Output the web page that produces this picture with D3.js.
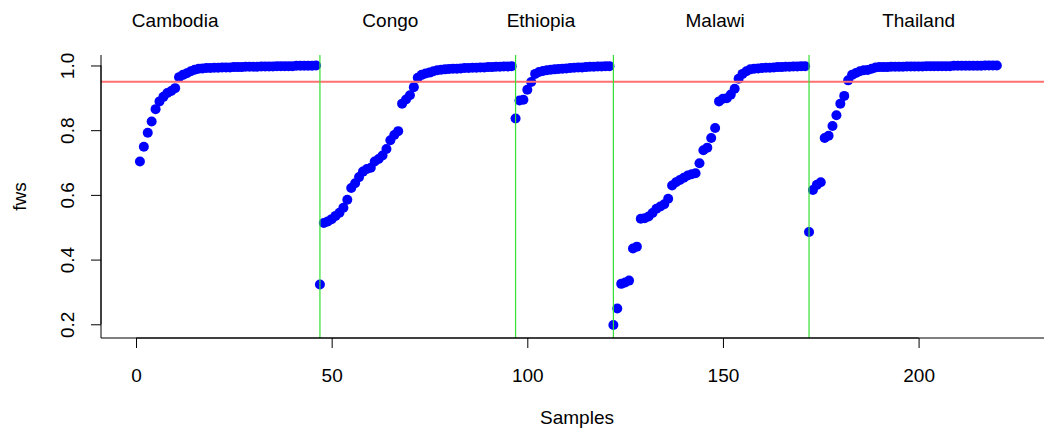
<html>
<head>
<title>fws by sample</title>
<script src="https://d3js.org/d3.v7.min.js"></script>
<style>
  body { margin: 0; background: #fff; }
  text { font-family: "Liberation Sans", Arial, sans-serif; fill: #000; }
</style>
</head>
<body>
<div id="chart"></div>
<script>
var width = 1044;
var height = 431;
// plot region (R style, right side runs past the window)
var margin = {top: 55, left: 101, bottom: 338, right: 1053};

var countries = ["Cambodia", "Congo", "Ethiopia", "Malawi", "Thailand"];
var labelAt = [10, 65, 103.5, 148, 200];

var cambodia = [0.703, 0.749, 0.792, 0.827, 0.865, 0.889, 0.903, 0.915, 0.921, 0.930,
  0.964, 0.971, 0.976, 0.982, 0.987, 0.990, 0.991, 0.992, 0.992, 0.993,
  0.993, 0.994, 0.994, 0.994, 0.995, 0.995, 0.995, 0.996, 0.996, 0.996,
  0.996, 0.997, 0.997, 0.997, 0.997, 0.998, 0.998, 0.998, 0.998, 0.998,
  0.999, 0.999, 0.999, 0.999, 0.999, 1.000];
var congo = [0.323, 0.513, 0.518, 0.525, 0.535, 0.545, 0.560, 0.585, 0.621, 0.636,
  0.655, 0.672, 0.680, 0.684, 0.703, 0.711, 0.722, 0.742, 0.769, 0.785,
  0.797, 0.882, 0.895, 0.908, 0.933, 0.962, 0.971, 0.975, 0.978, 0.982,
  0.985, 0.987, 0.988, 0.989, 0.990, 0.990, 0.991, 0.992, 0.992, 0.993,
  0.993, 0.994, 0.994, 0.995, 0.995, 0.996, 0.996, 0.997, 0.997, 0.998];
var ethiopia = [0.836, 0.892, 0.894, 0.925, 0.949, 0.974, 0.980, 0.983, 0.985, 0.987,
  0.988, 0.989, 0.990, 0.991, 0.992, 0.993, 0.994, 0.994, 0.995, 0.996,
  0.996, 0.997, 0.997, 0.998, 0.998];
var malawi = [0.198, 0.249, 0.325, 0.329, 0.335, 0.434, 0.440, 0.526, 0.528, 0.533,
  0.544, 0.557, 0.564, 0.571, 0.588, 0.629, 0.639, 0.646, 0.653, 0.660,
  0.664, 0.667, 0.698, 0.738, 0.746, 0.776, 0.807, 0.889, 0.897, 0.899,
  0.910, 0.928, 0.959, 0.974, 0.982, 0.988, 0.990, 0.991, 0.992, 0.993,
  0.993, 0.994, 0.995, 0.995, 0.996, 0.996, 0.997, 0.997, 0.998, 0.998];
var thailand = [0.485, 0.615, 0.631, 0.639, 0.776, 0.783, 0.813, 0.846, 0.882, 0.906,
  0.954, 0.971, 0.977, 0.982, 0.985, 0.986, 0.990, 0.994, 0.995, 0.995,
  0.995, 0.996, 0.996, 0.996, 0.996, 0.997, 0.997, 0.997, 0.997, 0.997,
  0.998, 0.998, 0.998, 0.998, 0.998, 0.998, 0.998, 0.999, 0.999, 0.999,
  0.999, 0.999, 0.999, 0.999, 0.999, 1.000, 1.000, 1.000, 1.000];

var xTicks = [0, 50, 100, 150, 200];
var yTicks = [0.2, 0.4, 0.6, 0.8, 1.0];
var threshold = 0.95;

var groups = [cambodia, congo, ethiopia, malawi, thailand];
var points = [], starts = [];
var n = 0;
groups.forEach(function(g) {
  starts.push(n + 1);
  g.forEach(function(v) { n++; points.push({i: n, v: v}); });
});
var boundaries = starts.slice(1);

var x = d3.scaleLinear().domain([-8.95, 234.35]).range([margin.left, margin.right]);
var y = d3.scaleLinear().domain([0.1576, 1.0324]).range([margin.bottom, margin.top]);

var svg = d3.select('#chart').append('svg')
  .attr('width', width)
  .attr('height', height);

svg.selectAll('.pt')
  .data(points)
  .enter()
  .append('circle')
  .attr('class', 'pt')
  .attr('cx', d => x(d.i))
  .attr('cy', d => y(d.v))
  .attr('r', 5)
  .attr('fill', '#0000ff');

svg.append('line')
  .attr('x1', margin.left).attr('x2', width)
  .attr('y1', y(threshold)).attr('y2', y(threshold))
  .attr('stroke', '#ff7070').attr('stroke-width', 2);

svg.selectAll('.vline')
  .data(boundaries)
  .enter()
  .append('line')
  .attr('class', 'vline')
  .attr('x1', d => x(d)).attr('x2', d => x(d))
  .attr('y1', margin.top).attr('y2', margin.bottom)
  .attr('stroke', '#33e033').attr('stroke-width', 1.2);

// box, bty = "l"
svg.append('path')
  .attr('d', `M${margin.left},${margin.top}V${margin.bottom}H${width}`)
  .attr('fill', 'none').attr('stroke', '#000').attr('stroke-width', 1);

// x axis
var xAxis = svg.append('g').attr('transform', `translate(0,${margin.bottom})`)
  .call(d3.axisBottom(x).tickValues(xTicks).tickSize(10).tickFormat(d3.format('d')));
xAxis.select('.domain').remove();
xAxis.append('line').attr('x1', x(xTicks[0])).attr('x2', x(xTicks[xTicks.length - 1]))
  .attr('stroke', '#000');
xAxis.selectAll('.tick line').attr('stroke', '#000');
xAxis.selectAll('.tick text')
  .attr('y', 44).attr('dy', 0)
  .style('font-size', '19px').style('font-family', '"Liberation Sans", Arial, sans-serif');

// y axis
var yAxis = svg.append('g').attr('transform', `translate(${margin.left},0)`)
  .call(d3.axisLeft(y).tickValues(yTicks).tickSize(10).tickFormat(d3.format('.1f')));
yAxis.select('.domain').remove();
yAxis.append('line').attr('y1', y(yTicks[0])).attr('y2', y(yTicks[yTicks.length - 1]))
  .attr('stroke', '#000');
yAxis.selectAll('.tick line').attr('stroke', '#000');
yAxis.selectAll('.tick text')
  .attr('x', null).attr('dy', 0)
  .attr('transform', 'translate(-27,0) rotate(-90)')
  .attr('text-anchor', 'middle')
  .style('font-size', '19px').style('font-family', '"Liberation Sans", Arial, sans-serif');

// country labels
svg.selectAll('.country')
  .data(countries)
  .enter()
  .append('text')
  .attr('class', 'country')
  .attr('x', (d, i) => x(labelAt[i]))
  .attr('y', 27)
  .attr('text-anchor', 'middle')
  .style('font-size', '19px')
  .text(d => d);

svg.append('text')
  .attr('x', (margin.left + margin.right) / 2)
  .attr('y', 424)
  .attr('text-anchor', 'middle')
  .style('font-size', '19px')
  .text('Samples');

svg.append('text')
  .attr('transform', `translate(26,${(margin.top + margin.bottom) / 2}) rotate(-90)`)
  .attr('text-anchor', 'middle')
  .style('font-size', '19px')
  .text('fws');
</script>
</body>
</html>
